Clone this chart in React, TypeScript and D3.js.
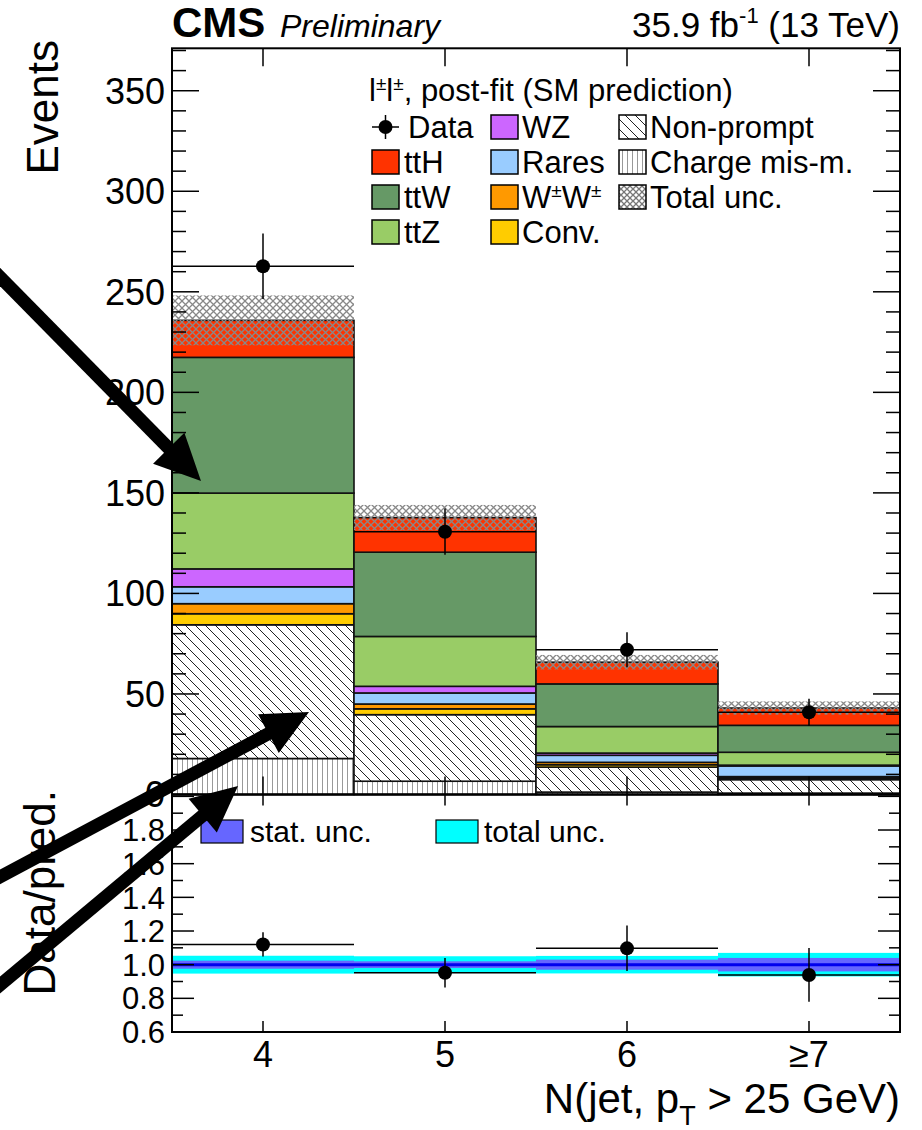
import React from "react";
import * as d3 from "d3";

// bins of the jet multiplicity
const bins = ["4", "5", "6", "≥7"];

// stacked backgrounds + signal (events), bottom to top
const chargeMis = [17.9, 6.6, 1.2, 0.7];
const nonPrompt = [66.5, 33.1, 12.4, 6.7];
const conv = [5.5, 2.9, 1.2, 0.8];
const wpmwpm = [5.0, 2.4, 1.2, 0.7];
const rares = [8.4, 5.5, 3.5, 5.3];
const wz = [8.9, 3.3, 1.1, 0.4];
const ttZ = [37.7, 24.8, 13.2, 6.4];
const ttW = [67.5, 41.9, 21.2, 13.4];
const ttH = [18.4, 17.2, 10.8, 8.6];
const totalUnc = [12.4, 6.3, 3.6, 3.3];

const dataVals = [262.7, 130.7, 72.0, 40.9];
const dataErr = [16.3, 11.5, 8.7, 6.7];

// ratio panel
const ratioVals = [1.12, 0.952, 1.097, 0.939];
const ratioErr = [0.072, 0.088, 0.135, 0.16];
const statUncRel = [0.024, 0.02, 0.03, 0.04];
const totUncRel = [0.053, 0.05, 0.052, 0.07];

const eventTicks = [0, 50, 100, 150, 200, 250, 300, 350];
const ratioTicks = [0.6, 0.8, 1.0, 1.2, 1.4, 1.6, 1.8];

const procs = [
  { key: "charge", vals: chargeMis, fill: "url(#vhatch)" },
  { key: "nonprompt", vals: nonPrompt, fill: "url(#dhatch)" },
  { key: "conv", vals: conv, fill: "#ffcc00" },
  { key: "ww", vals: wpmwpm, fill: "#ff9900" },
  { key: "rares", vals: rares, fill: "#99ccff" },
  { key: "wz", vals: wz, fill: "#cc66ff" },
  { key: "ttZ", vals: ttZ, fill: "#99cc66" },
  { key: "ttW", vals: ttW, fill: "#669966" },
  { key: "ttH", vals: ttH, fill: "#ff3300" },
];

const FONT = "'Liberation Sans', Arial, Helvetica, sans-serif";

const Arrow = ({ x1, y1, x2, y2 }: { x1: number; y1: number; x2: number; y2: number }) => {
  const dx = x2 - x1, dy = y2 - y1;
  const len = Math.sqrt(dx * dx + dy * dy);
  const ux = dx / len, uy = dy / len;
  const L = 46, W = 22;
  const bx = x2 - L * ux, by = y2 - L * uy;
  const nx = -uy, ny = ux;
  const pts = `${x2},${y2} ${bx + W * nx},${by + W * ny} ${bx - W * nx},${by - W * ny}`;
  return (
    <g>
      <line x1={x1} y1={y1} x2={bx + 4 * ux} y2={by + 4 * uy} stroke="#000" strokeWidth={13} />
      <polygon points={pts} fill="#000" />
    </g>
  );
};

export default function App() {
  const W = 922, H = 1130;
  const left = 172, right = 900;
  const top = 48.3, mid = 794.5, bottom = 1032;

  const x = d3.scaleBand().domain(bins).range([left, right]).padding(0);
  const y = d3.scaleLinear().domain([0, 371.1]).range([mid, top]);
  const r = d3.scaleLinear().domain([0.6, 2.011]).range([bottom, mid]);

  const table = bins.map((b, i) => {
    const o: any = { bin: b };
    procs.forEach((p) => (o[p.key] = p.vals[i]));
    return o;
  });
  const stack = d3.stack().keys(procs.map((p) => p.key))(table as any);
  const totals = bins.map((_, i) => procs.reduce((s, p) => s + p.vals[i], 0));

  const bw = x.bandwidth();
  const cx = (b: string) => (x(b) as number) + bw / 2;

  const minorEv = d3.range(0, 371, 10);
  const minorR = d3.range(0.6, 2.0001, 0.1);

  const legRows = [127, 162, 197, 232];
  const boxW = 27, boxH = 24;
  const legFont = 31;

  return (
    <svg width={W} height={H} style={{ display: "block", position: "absolute", left: 0, top: 0 }} fontFamily={FONT}>
      <defs>
        <pattern id="dhatch" patternUnits="userSpaceOnUse" width={10} height={10}>
          <rect width={10} height={10} fill="#fff" />
          <path d="M0,0 L10,10 M-2,8 L2,12 M8,-2 L12,2" stroke="#222" strokeWidth={1} />
        </pattern>
        <pattern id="vhatch" patternUnits="userSpaceOnUse" width={5} height={5}>
          <rect width={5} height={5} fill="#fff" />
          <line x1={2.5} y1={0} x2={2.5} y2={5} stroke="#999" strokeWidth={1} />
        </pattern>
        <pattern id="xhatch" patternUnits="userSpaceOnUse" width={7} height={7}>
          <path d="M0,0 L7,7 M7,0 L0,7" stroke="#888" strokeWidth={1.3} />
        </pattern>
        <pattern id="xhatchbox" patternUnits="userSpaceOnUse" width={6} height={6}>
          <rect width={6} height={6} fill="#fff" />
          <path d="M0,0 L6,6 M6,0 L0,6" stroke="#777" strokeWidth={1.3} />
        </pattern>
      </defs>
      <rect width={W} height={H} fill="#fff" />

      {/* stacked histogram */}
      {stack.map((layer, li) => (
        <g key={procs[li].key}>
          {layer.map((d, i) => (
            <rect
              key={i}
              x={x(bins[i])}
              y={y(d[1])}
              width={bw}
              height={Math.max(0, y(d[0]) - y(d[1]))}
              fill={procs[li].fill}
              stroke="#111"
              strokeWidth={1.6}
            />
          ))}
        </g>
      ))}

      {/* total uncertainty band */}
      {bins.map((b, i) => (
        <rect
          key={b}
          x={x(b)}
          y={y(totals[i] + totalUnc[i])}
          width={bw}
          height={y(totals[i] - totalUnc[i]) - y(totals[i] + totalUnc[i])}
          fill="url(#xhatch)"
        />
      ))}

      {/* data */}
      {bins.map((b, i) => (
        <g key={b}>
          <line x1={x(b)} x2={(x(b) as number) + bw} y1={y(dataVals[i])} y2={y(dataVals[i])} stroke="#000" strokeWidth={1.5} />
          <line x1={cx(b)} x2={cx(b)} y1={y(dataVals[i] + dataErr[i])} y2={y(dataVals[i] - dataErr[i])} stroke="#000" strokeWidth={1.5} />
          <circle cx={cx(b)} cy={y(dataVals[i])} r={7} fill="#000" />
        </g>
      ))}

      {/* upper frame and ticks */}
      <rect x={left} y={top} width={right - left} height={mid - top} fill="none" stroke="#000" strokeWidth={2} />
      {minorEv.map((v) => {
        const major = v % 50 === 0;
        const len = major ? 27 : 14;
        return (
          <g key={v}>
            <line x1={left} x2={left + len} y1={y(v)} y2={y(v)} stroke="#000" strokeWidth={1.5} />
            <line x1={right} x2={right - len} y1={y(v)} y2={y(v)} stroke="#000" strokeWidth={1.5} />
          </g>
        );
      })}
      {bins.map((b) => (
        <g key={b}>
          <line x1={cx(b)} x2={cx(b)} y1={top} y2={top + 18} stroke="#000" strokeWidth={1.5} />
          <line x1={cx(b)} x2={cx(b)} y1={mid} y2={mid - 18} stroke="#000" strokeWidth={1.5} />
        </g>
      ))}
      {eventTicks.map((v) => (
        <text key={v} x={165} y={y(v)} dy="0.36em" textAnchor="end" fontSize={36}>
          {v}
        </text>
      ))}
      <text transform={`translate(58,40) rotate(-90)`} textAnchor="end" fontSize={44}>
        Events
      </text>

      {/* header */}
      <text x={left} y={37} fontSize={42} fontWeight="bold">CMS</text>
      <text x={280} y={37} fontSize={32} fontStyle="italic">Preliminary</text>
      <text x={right} y={37} fontSize={35} textAnchor="end">
        35.9 fb<tspan dy={-14} fontSize={22}>-1</tspan>
        <tspan dy={14}> (13 TeV)</tspan>
      </text>

      {/* legend */}
      <text x={369} y={101} fontSize={31}>
        l<tspan dy={-11} fontSize={19}>±</tspan>
        <tspan dy={11}>l</tspan>
        <tspan dy={-11} fontSize={19}>±</tspan>
        <tspan dy={11}>, post-fit (SM prediction)</tspan>
      </text>
      {/* column 1 */}
      <g>
        <line x1={372} x2={399} y1={legRows[0]} y2={legRows[0]} stroke="#000" strokeWidth={1.5} />
        <line x1={385.5} x2={385.5} y1={legRows[0] - 12} y2={legRows[0] + 12} stroke="#000" strokeWidth={1.5} />
        <circle cx={385.5} cy={legRows[0]} r={7} fill="#000" />
        <text x={408} y={legRows[0]} dy="0.36em" fontSize={legFont}>Data</text>
        {[
          { label: "ttH", fill: "#ff3300" },
          { label: "ttW", fill: "#669966" },
          { label: "ttZ", fill: "#99cc66" },
        ].map((e, k) => (
          <g key={e.label}>
            <rect x={372} y={legRows[k + 1] - boxH / 2} width={boxW} height={boxH} fill={e.fill} stroke="#000" strokeWidth={1.5} />
            <text x={404} y={legRows[k + 1]} dy="0.36em" fontSize={legFont}>{e.label}</text>
          </g>
        ))}
      </g>
      {/* column 2 */}
      {[
        { label: "WZ", fill: "#cc66ff" },
        { label: "Rares", fill: "#99ccff" },
        { label: "W±W±", fill: "#ff9900" },
        { label: "Conv.", fill: "#ffcc00" },
      ].map((e, k) => (
        <g key={e.label}>
          <rect x={491} y={legRows[k] - boxH / 2} width={boxW} height={boxH} fill={e.fill} stroke="#000" strokeWidth={1.5} />
          {e.label === "W±W±" ? (
            <text x={522} y={legRows[k]} dy="0.36em" fontSize={legFont}>
              W<tspan dy={-11} fontSize={19}>±</tspan>
              <tspan dy={11}>W</tspan>
              <tspan dy={-11} fontSize={19}>±</tspan>
            </text>
          ) : (
            <text x={522} y={legRows[k]} dy="0.36em" fontSize={legFont}>{e.label}</text>
          )}
        </g>
      ))}
      {/* column 3 */}
      {[
        { label: "Non-prompt", fill: "url(#dhatch)" },
        { label: "Charge mis-m.", fill: "url(#vhatch)" },
        { label: "Total unc.", fill: "url(#xhatchbox)" },
      ].map((e, k) => (
        <g key={e.label}>
          <rect x={619} y={legRows[k] - boxH / 2} width={boxW} height={boxH} fill={e.fill} stroke="#000" strokeWidth={1.5} />
          <text x={650} y={legRows[k]} dy="0.36em" fontSize={legFont}>{e.label}</text>
        </g>
      ))}

      {/* ratio panel */}
      {bins.map((b, i) => (
        <g key={b}>
          <rect x={x(b)} y={r(1 + totUncRel[i])} width={bw} height={r(1 - totUncRel[i]) - r(1 + totUncRel[i])} fill="#00ffff" />
          <rect x={x(b)} y={r(1 + statUncRel[i])} width={bw} height={r(1 - statUncRel[i]) - r(1 + statUncRel[i])} fill="#6666ff" />
        </g>
      ))}
      <line x1={left} x2={right} y1={r(1)} y2={r(1)} stroke="#0000ee" strokeWidth={3} />
      {bins.map((b, i) => (
        <g key={b}>
          <line x1={x(b)} x2={(x(b) as number) + bw} y1={r(ratioVals[i])} y2={r(ratioVals[i])} stroke="#000" strokeWidth={1.5} />
          <line x1={cx(b)} x2={cx(b)} y1={r(ratioVals[i] + ratioErr[i])} y2={r(ratioVals[i] - ratioErr[i])} stroke="#000" strokeWidth={1.5} />
          <circle cx={cx(b)} cy={r(ratioVals[i])} r={7} fill="#000" />
        </g>
      ))}
      <rect x={left} y={mid} width={right - left} height={bottom - mid} fill="none" stroke="#000" strokeWidth={2} />
      {minorR.map((v) => {
        const major = Math.round(v * 10) % 2 === 0;
        const len = major ? 22 : 11;
        return (
          <g key={v.toFixed(1)}>
            <line x1={left} x2={left + len} y1={r(v)} y2={r(v)} stroke="#000" strokeWidth={1.5} />
            <line x1={right} x2={right - len} y1={r(v)} y2={r(v)} stroke="#000" strokeWidth={1.5} />
          </g>
        );
      })}
      {bins.map((b) => (
        <g key={b}>
          <line x1={cx(b)} x2={cx(b)} y1={mid} y2={mid + 11} stroke="#000" strokeWidth={1.5} />
          <line x1={cx(b)} x2={cx(b)} y1={bottom} y2={bottom - 11} stroke="#000" strokeWidth={1.5} />
        </g>
      ))}
      {ratioTicks.map((v) => (
        <text key={v} x={165} y={r(v)} dy="0.36em" textAnchor="end" fontSize={31}>
          {v.toFixed(1)}
        </text>
      ))}
      <text transform={`translate(55,790) rotate(-90)`} textAnchor="end" fontSize={44}>
        Data/pred.
      </text>
      {/* ratio legend */}
      <rect x={201} y={820} width={42} height={23} fill="#6666ff" stroke="#000" strokeWidth={1.2} />
      <text x={250} y={842} fontSize={30}>stat. unc.</text>
      <rect x={436} y={820} width={42} height={23} fill="#00ffff" stroke="#000" strokeWidth={1.2} />
      <text x={484} y={842} fontSize={30}>total unc.</text>

      {/* x axis labels */}
      {bins.map((b) => (
        <text key={b} x={cx(b)} y={1067} textAnchor="middle" fontSize={36}>
          {b}
        </text>
      ))}
      <text x={right} y={1113} textAnchor="end" fontSize={42}>
        N(jet, p<tspan dy={12} fontSize={27}>T</tspan>
        <tspan dy={-12}> &gt; 25 GeV)</tspan>
      </text>

      {/* annotation arrows */}
      <Arrow x1={-6} y1={271} x2={201} y2={481} />
      <Arrow x1={-6} y1={880} x2={309} y2={712} />
      <Arrow x1={-6} y1={990} x2={238} y2={786} />
    </svg>
  );
}
